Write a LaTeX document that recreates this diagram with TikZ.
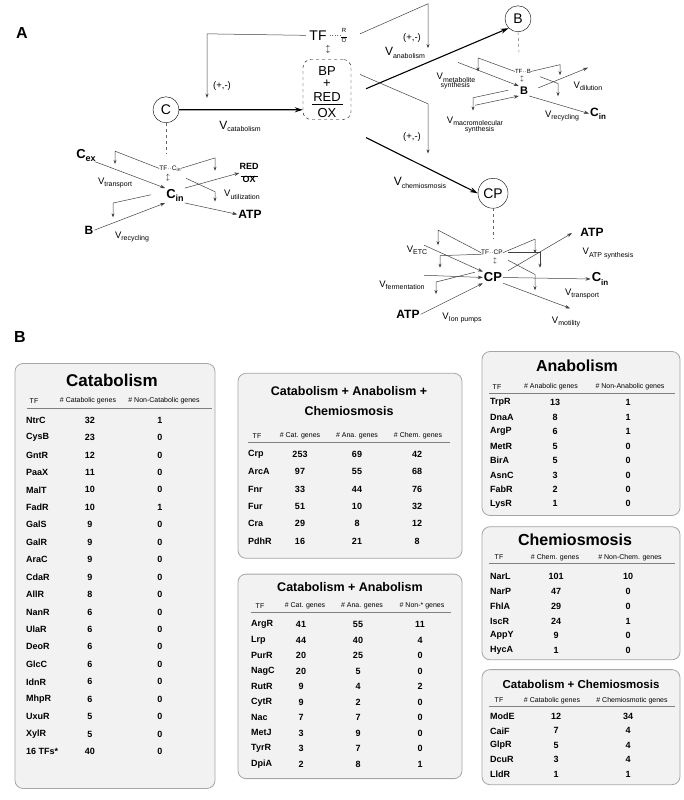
\documentclass[tikz,border=0pt]{standalone}
\usepackage{fontspec}
\setmainfont{Liberation Sans}
\usetikzlibrary{arrows.meta}
\newcommand{\vsub}[1]{V\raisebox{-0.45ex}{\fontsize{7}{8}\selectfont #1}}
\begin{document}
\begin{tikzpicture}[x=1pt,y=-1pt,
  fb/.style={draw=black!75,line width=0.5pt,-{Stealth[length=4pt,width=3pt]}},
  thin/.style={draw=black!75,line width=0.5pt,-{Stealth[length=5pt,width=3.5pt]}},
  thick/.style={draw=black,line width=1.1pt,-{Stealth[length=8pt,width=5pt]}},
  circ/.style={draw,circle,minimum size=26pt,inner sep=0pt,font=\fontsize{14}{14}\selectfont},
  lbl/.style={font=\fontsize{9.5}{10}\selectfont,inner sep=1pt},
  bl/.style={font=\fontsize{11}{11}\bfseries\selectfont,inner sep=1pt},
  tbox/.style={draw=black!35,fill=black!5,rounded corners=8pt,line width=0.8pt},
  hd/.style={font=\fontsize{7}{8}\selectfont,inner sep=0pt},
  rw/.style={font=\fontsize{9}{10}\bfseries\selectfont,inner sep=0pt}]
\useasboundingbox (0,0) rectangle (684,800);
\begin{scope}[yscale=0.752]
\node[font=\fontsize{16}{16}\bfseries\selectfont] (A) at (22,44) {A};
% ---- top network
\node[font=\fontsize{14}{14}\selectfont] (TF) at (318,47) {TF};
\node[font=\fontsize{6}{6}\selectfont,align=center,inner sep=0] (RO) at (344,47) {R\\[-1pt]\rule{6pt}{0.3pt}\\[-1pt]O};
\draw[dotted,black!60] (TF.east) -- (RO.west);
\node[font=\fontsize{8}{8}\selectfont] (ud) at (328,66) {$\updownarrow$};
\node[draw,dashed,rounded corners=8pt,minimum width=48pt,minimum height=60pt] (box) at (327,119) {};
\node[font=\fontsize{13}{13}\selectfont] (bp) at (327,94) {BP};
\node[font=\fontsize{13}{13}\selectfont] (pl) at (327,112) {+};
\node[font=\fontsize{13}{13}\selectfont] (red) at (327,129) {RED};
\draw (312,139) -- (343,139);
\node[font=\fontsize{13}{13}\selectfont] (ox) at (327,150) {OX};
\node[circ] (C) at (166,146) {C};
\node[circ] (Bc) at (518,25) {B};
\node[circ,minimum size=30pt] (CP) at (493,257) {CP};
\draw[thick] (C) -- (box.west |- C);
\node[lbl,font=\fontsize{12}{12}\selectfont] (vcat) at (240,168) {\vsub{catabolism}};
\draw[thick] (366,118) -- (Bc.south west);
\draw[thick] (366,183) -- (CP.west);
\node[lbl,font=\fontsize{12}{12}\selectfont] (vana) at (405,70) {\vsub{anabolism}};
\node[lbl,font=\fontsize{12}{12}\selectfont] (vchem) at (420,243) {\vsub{chemiosmosis}};
\coordinate (f1) at (207,45); \coordinate (f1e) at (207,130);
\draw[fb] (TF.west) -- (f1) -- (f1e);
\node[lbl] (pm1) at (222,115) {(+,-)};
\draw[fb] (360,45) -- (428,5) -- (428,64);
\node[lbl] (pm2) at (412,50) {(+,-)};
\draw[fb] (360,99) -- (428,138) -- (428,204);
\node[lbl] (pm3) at (412,182) {(+,-)};
% ---- C sub
\draw[dashed,black!60] (C.south) -- (166,205);
\node[font=\fontsize{6.5}{7}\selectfont,inner sep=0] (tfc) at (170,224) {TF$\cdot\cdot$C\raisebox{-0.3ex}{\tiny in}};
\node[font=\fontsize{7}{7}\selectfont] (udc) at (168,237) {$\updownarrow$};
\node[bl,font=\fontsize{13}{13}\bfseries\selectfont] (cin) at (175,260) {C\raisebox{-0.5ex}{\fontsize{9}{9}\selectfont in}};
\node[bl,font=\fontsize{13}{13}\bfseries\selectfont] (cex) at (86,207) {C\raisebox{-0.5ex}{\fontsize{9}{9}\selectfont ex}};
\node[bl,font=\fontsize{12}{12}\bfseries\selectfont] (bsub) at (89,306) {B};
\node[font=\fontsize{9}{9}\bfseries\selectfont,align=center,inner sep=0] (ro2) at (249,230) {RED\\[-2pt]\rule{17pt}{0.5pt}\\[-3pt]OX};
\node[bl,font=\fontsize{12}{12}\bfseries\selectfont] (atp1) at (250,285) {ATP};
\draw[thin] (95,215) -- (cin.north west);
\draw[thin] (bsub.east) -- (cin.south west);
\draw[thin] (cin.north east) -- (ro2.west);
\draw[thin] (cin.south east) -- (atp1.west);
\draw[fb] (tfc.west) -- (115,201) -- (115,218);
\draw[fb] (151,259) -- (113,270) -- (113,289);
\draw[fb] (tfc.east) -- (215,210) -- (215,227);
\draw[fb] (186,237) -- (215,255) -- (215,268);
\node[lbl] (vtr) at (115,243) {\vsub{transport}};
\node[lbl] (vrec) at (132,315) {\vsub{recycling}};
\node[lbl] (vut) at (242,259) {\vsub{utilization}};
% ---- B sub
\draw[dashed,black!60] (Bc.south) -- (519,70);
\node[font=\fontsize{6}{6}\selectfont,inner sep=0] (tfb) at (523,95) {TF$\cdot\cdot$B};
\node[font=\fontsize{6.5}{6.5}\selectfont] (udb) at (522,105) {$\updownarrow$};
\node[bl] (bb) at (524,121) {B};
\node[bl,font=\fontsize{12}{12}\bfseries\selectfont] (cinb) at (598,151) {C\raisebox{-0.5ex}{\fontsize{8}{8}\selectfont in}};
\draw[thin] (458,83) -- (bb.north west);
\draw[thin] (475,140) -- (bb.south west);
\draw[thin] (538,117) -- (588,90);
\draw[thin] (bb.south east) -- (cinb.west);
\draw[fb] (tfb.west) -- (478,77) -- (478,95);
\draw[fb] (508,120) -- (473,130) -- (473,147);
\draw[fb] (tfb.east) -- (560,86) -- (560,100);
\draw[fb] (540,102) -- (558,111) -- (558,128);
\node[lbl,align=left] (vms) at (456,108) {\vsub{metabolite}\\[-2pt]\hspace*{4pt}{\fontsize{7}{8}\selectfont synthesis}};
\node[lbl,align=left] (vmm) at (475,166) {\vsub{macromolecular}\\[-2pt]\hspace*{18pt}{\fontsize{7}{8}\selectfont synthesis}};
\node[lbl] (vdil) at (588,115) {\vsub{dilution}};
\node[lbl] (vrecb) at (562,154) {\vsub{recycling}};
% ---- CP sub
\draw[dashed,black!60] (CP.south) -- (493,318);
\node[font=\fontsize{6.5}{6.5}\selectfont,inner sep=0] (tfcp) at (492,336) {TF$\cdot\cdot$CP};
\node[font=\fontsize{6.5}{6.5}\selectfont] (udcp) at (495,347) {$\updownarrow$};
\node[bl,font=\fontsize{13}{13}\bfseries\selectfont] (cp) at (493,369) {CP};
\node[bl,font=\fontsize{12}{12}\bfseries\selectfont] (atp2) at (592,309) {ATP};
\node[bl,font=\fontsize{13}{13}\bfseries\selectfont] (cin2) at (600,371) {C\raisebox{-0.5ex}{\fontsize{8}{8}\selectfont in}};
\node[bl,font=\fontsize{12}{12}\bfseries\selectfont] (atp3) at (408,418) {ATP};
\draw[thin] (424,326) -- (cp.north west);
\draw[thin] (424,366) -- (cp.west);
\draw[thin] (atp3.east) -- (cp.south west);
\draw[thin] (cp.east) -- (cin2.west);
\draw[thin] (cp.south east) -- (570,410);
\draw[thin] (508,360) -- (572,310);
\draw[fb] (tfcp.west) -- (438,306) -- (438,326);
\draw[fb] (483,338) -- (440,340) -- (440,356);
\draw[fb] (475,362) -- (436,375) -- (436,391);
\draw[fb] (tfcp.east) -- (535,318) -- (535,337);
\draw[fb] (508,335) -- (540,335) -- (540,356);
\draw[fb] (508,346) -- (535,365) -- (535,386);
\node[lbl] (vetc) at (417,333) {\vsub{ETC}};
\node[lbl] (vfer) at (402,379) {\vsub{fermentation}};
\node[lbl] (vion) at (462,423) {\vsub{Ion pumps}};
\node[lbl] (vatps) at (608,337) {\vsub{ATP synthesis}};
\node[lbl] (vtr2) at (582,391) {\vsub{transport}};
\node[lbl] (vmot) at (566,428) {\vsub{motility}};
\end{scope}
% ---- tables
\begin{scope}[shift={(0,86.8)},yscale=0.752]
\node[font=\fontsize{16}{16}\bfseries\selectfont] (Bl) at (20,333) {B};
\draw[tbox] (15,368) rectangle (215,933);
\draw[tbox] (238,381) rectangle (462,627);
\draw[tbox] (238,648) rectangle (462,920);
\draw[tbox] (482,352) rectangle (680,570);
\draw[tbox] (482,585) rectangle (680,762);
\draw[tbox] (482,775) rectangle (680,928);
% Catabolism
\node[font=\fontsize{17}{17}\bfseries\selectfont] (t1) at (112,391) {Catabolism};
\node[hd] (h1a) at (34,418) {TF};
\node[hd] (h1b) at (88,418) {\# Catabolic genes};
\node[hd] (h1c) at (164,418) {\# Non-Catabolic genes};
\draw[black!50] (27,427) -- (212,427);
\foreach \n/\a/\b [count=\i] in {NtrC/32/1,CysB/23/0,GntR/12/0,PaaX/11/0,MalT/10/0,FadR/10/1,GalS/9/0,GalR/9/0,AraC/9/0,CdaR/9/0,AllR/8/0,NanR/6/0,UlaR/6/0,DeoR/6/0,GlcC/6/0,IdnR/6/0,MhpR/6/0,UxuR/5/0,XylR/5/0,16 TFs*/40/0}{
  \node[rw,anchor=west] (c1n\i) at (26,420+23.2*\i) {\n};
  \node[rw] (c1a\i) at (90,420+23.2*\i) {\a};
  \node[rw] (c1b\i) at (160,420+23.2*\i) {\b};}
% C+A+Ch
\node[font=\fontsize{12.5}{12.5}\bfseries\selectfont] (t2a) at (349,404) {Catabolism + Anabolism +};
\node[font=\fontsize{12.5}{12.5}\bfseries\selectfont] (t2b) at (349,431) {Chemiosmosis};
\node[hd] (h2a) at (257,464) {TF};
\node[hd] (h2b) at (300,464) {\# Cat. genes};
\node[hd] (h2c) at (357,464) {\# Ana. genes};
\node[hd] (h2d) at (418,464) {\# Chem. genes};
\draw[black!50] (248,472) -- (450,472);
\foreach \n/\a/\b/\c [count=\i] in {Crp/253/69/42,ArcA/97/55/68,Fnr/33/44/76,Fur/51/10/32,Cra/29/8/12,PdhR/16/21/8}{
  \node[rw,anchor=west] (c2n\i) at (248,466+23*\i) {\n};
  \node[rw] (c2a\i) at (300,466+23*\i) {\a};
  \node[rw] (c2b\i) at (357,466+23*\i) {\b};
  \node[rw] (c2c\i) at (417,466+23*\i) {\c};}
% C+A
\node[font=\fontsize{12.5}{12.5}\bfseries\selectfont] (t3) at (350,665) {Catabolism + Anabolism};
\node[hd] (h3a) at (260,690) {TF};
\node[hd] (h3b) at (305,690) {\# Cat. genes};
\node[hd] (h3c) at (362,690) {\# Ana. genes};
\node[hd] (h3d) at (422,690) {\# Non-* genes};
\draw[black!50] (251,698) -- (451,698);
\foreach \n/\a/\b/\c [count=\i] in {ArgR/41/55/11,Lrp/44/40/4,PurR/20/25/0,NagC/20/5/0,RutR/9/4/2,CytR/9/2/0,Nac/7/7/0,MetJ/3/9/0,TyrR/3/7/0,DpiA/2/8/1}{
  \node[rw,anchor=west] (c3n\i) at (251,694.4+20.6*\i) {\n};
  \node[rw] (c3a\i) at (301,694.4+20.6*\i) {\a};
  \node[rw] (c3b\i) at (358,694.4+20.6*\i) {\b};
  \node[rw] (c3c\i) at (420,694.4+20.6*\i) {\c};}
% Anabolism
\node[font=\fontsize{16}{16}\bfseries\selectfont] (t4) at (577,371) {Anabolism};
\node[hd] (h4a) at (497,399) {TF};
\node[hd] (h4b) at (551,399) {\# Anabolic genes};
\node[hd] (h4c) at (630,399) {\# Non-Anabolic genes};
\draw[black!50] (489,407) -- (675,407);
\foreach \n/\a/\b [count=\i] in {TrpR/13/1,DnaA/8/1,ArgP/6/1,MetR/5/0,BirA/5/0,AsnC/3/0,FabR/2/0,LysR/1/0}{
  \node[rw,anchor=west] (c4n\i) at (490,401+19.2*\i) {\n};
  \node[rw] (c4a\i) at (555,401+19.2*\i) {\a};
  \node[rw] (c4b\i) at (628,401+19.2*\i) {\b};}
% Chemiosmosis
\node[font=\fontsize{16}{16}\bfseries\selectfont] (t5) at (575,602) {Chemiosmosis};
\node[hd] (h5a) at (499,626) {TF};
\node[hd] (h5b) at (555,626) {\# Chem. genes};
\node[hd] (h5c) at (630,626) {\# Non-Chem. genes};
\draw[black!50] (489,634) -- (675,634);
\foreach \n/\a/\b [count=\i] in {NarL/101/10,NarP/47/0,FhlA/29/0,IscR/24/1,AppY/9/0,HycA/1/0}{
  \node[rw,anchor=west] (c5n\i) at (490,632+19.6*\i) {\n};
  \node[rw] (c5a\i) at (556,632+19.6*\i) {\a};
  \node[rw] (c5b\i) at (628,632+19.6*\i) {\b};}
% Cat+Chem
\node[font=\fontsize{11.5}{11.5}\bfseries\selectfont] (t6) at (581,795) {Catabolism + Chemiosmosis};
\node[hd] (h6a) at (499,816) {TF};
\node[hd] (h6b) at (552,816) {\# Catabolic genes};
\node[hd] (h6c) at (632,816) {\# Chemiosmotic genes};
\draw[black!50] (489,823) -- (675,823);
\foreach \n/\a/\b [count=\i] in {ModE/12/34,CaiF/7/4,GlpR/5/4,DcuR/3/4,LldR/1/1}{
  \node[rw,anchor=west] (c6n\i) at (490,818+19.2*\i) {\n};
  \node[rw] (c6a\i) at (556,818+19.2*\i) {\a};
  \node[rw] (c6b\i) at (628,818+19.2*\i) {\b};}
\end{scope}
\end{tikzpicture}
\end{document}
